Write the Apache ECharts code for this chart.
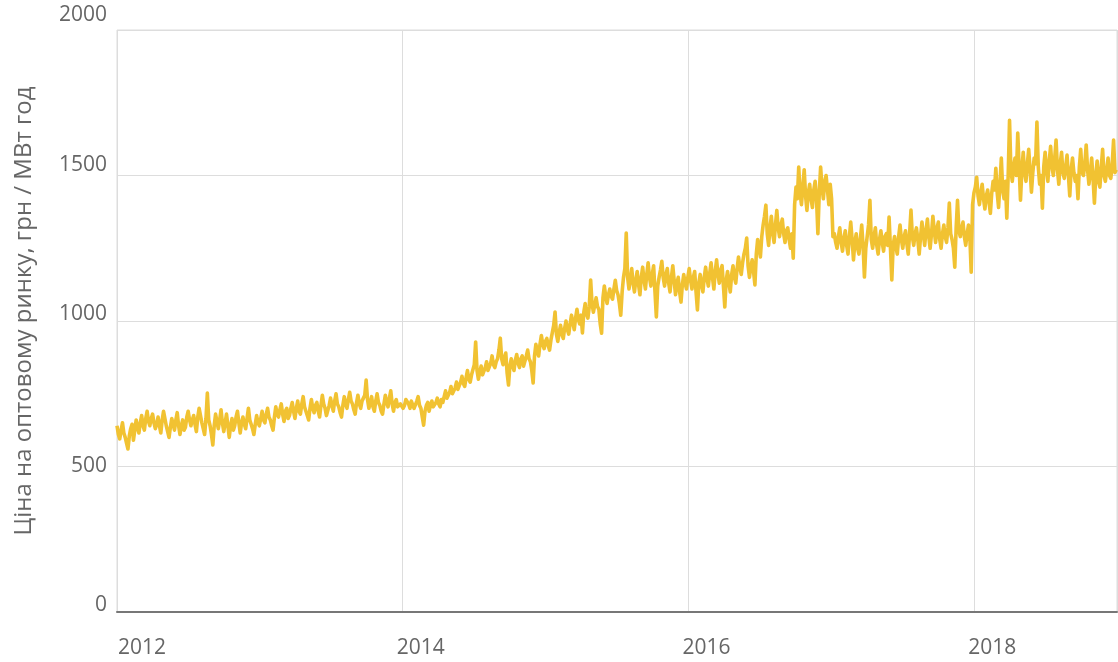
<!DOCTYPE html>
<html><head><meta charset="utf-8">
<script src="https://cdn.jsdelivr.net/npm/echarts@6/dist/echarts.min.js"></script>
<style>html,body{margin:0;padding:0;background:#fff}#c{width:1118px;height:662px}</style>
</head><body><div id="c"></div>
<script>
// Half-weekly readings (grn / MWh), starting 2012-01-01, one value every 3.5 days
const startYear = 2012;
const stepDays = 3.5;
const price2012 = [640,610,595,625,650,615,600,580,560,605,630,645,590,625,660,635,615,650,675,640,625,665,690,655,640,665,
  680,650,630,645,670,640,615,660,690,665,640,620,600,635,665,645,625,660,685,640,610,640,660,625,635,670,
  690,660,640,660,675,645,620,670,700,675,650,630,610,665,752,660,640,610,574,640,680,655,630,660,695,650,
  620,650,680,640,600,640,665,625,640,670,690,650,615,650,670,645,630,665,700,660,645,630,610,645,675,650];
const price2013 = [640,665,690,660,650,680,700,670,660,640,625,670,705,680,670,695,715,680,655,690,700,665,675,700,720,690,
  665,700,725,690,680,715,740,705,690,675,660,700,730,700,685,710,720,690,670,710,745,715,700,675,680,710,
  735,710,690,725,750,715,705,685,670,710,740,715,700,730,755,725,715,695,680,720,745,715,700,725,735,745,
  797,730,700,720,740,705,690,725,750,720,710,690,680,715,745,720,705,735,760,715,690,720,730,705,700,715];
const price2014 = [720,700,710,730,735,715,700,725,725,700,705,725,740,710,700,670,642,690,710,720,690,710,725,705,700,720,735,715,705,730,
  720,740,760,735,730,755,775,750,745,770,790,765,760,790,810,785,775,805,830,800,790,815,
  820,850,928,830,800,825,845,815,810,840,860,830,825,855,880,850,840,860,870,900,941,870,850,875,890,820,780,845,
  870,845,830,865,885,855,840,870,880,845,850,880,900,870,860,830,787,880,920,895,880,920,950,920,905,930];
const price2015 = [940,915,900,935,960,985,1031,955,930,960,985,955,940,975,1000,970,955,990,1020,995,970,1010,1040,1005,990,1020,
  959,1030,1060,1025,1010,1050,1141,1060,1030,1055,1080,1050,1040,990,958,1080,1120,1085,1060,1090,1110,1085,1075,1110,1140,1105,
  1090,1060,1020,1100,1150,1180,1302,1150,1110,1145,1180,1130,1100,1140,1170,1125,1090,1150,1185,1140,1110,1160,1200,1150,1120,1160,
  1190,1100,1014,1120,1150,1175,1205,1150,1120,1160,1180,1130,1100,1150,1190,1140,1090,1130,1150,1100,1065,1125,1160,1130,1110,1150];
const price2016 = [1180,1140,1110,1150,1170,1100,1038,1130,1160,1125,1100,1150,1185,1145,1120,1165,1200,1150,1110,1170,1210,1160,1130,1175,1190,1120,
  1048,1140,1170,1130,1100,1160,1190,1150,1130,1180,1220,1185,1160,1200,1230,1250,1285,1190,1150,1185,1210,1170,1124,1230,1280,1250,
  1220,1290,1330,1360,1398,1300,1260,1320,1360,1300,1270,1330,1380,1320,1290,1330,1350,1300,1270,1310,1320,1280,1250,1300,1216,1400,
  1460,1420,1529,1440,1400,1460,1520,1430,1380,1440,1470,1420,1390,1450,1480,1420,1300,1440,1529,1460,1420,1480,1500,1450,1400,1470];
const price2017 = [1420,1290,1300,1270,1250,1290,1320,1270,1240,1285,1310,1260,1230,1290,1340,1280,1210,1270,1300,1250,1230,1280,1330,1260,1151,1250,
  1290,1330,1415,1280,1250,1290,1320,1260,1230,1280,1310,1270,1240,1290,1300,1260,1357,1250,1141,1260,1290,1255,1230,1290,1330,1280,
  1250,1290,1310,1265,1230,1300,1381,1290,1260,1300,1320,1280,1230,1290,1340,1300,1260,1310,1350,1290,1250,1300,1360,1310,1270,1320,
  1340,1280,1250,1300,1330,1290,1270,1320,1405,1300,1280,1250,1185,1320,1415,1310,1290,1320,1340,1290,1260,1300,1330,1290,1168,1400];
const price2018 = [1440,1460,1494,1430,1400,1440,1470,1420,1385,1430,1450,1410,1370,1440,1480,1450,1525,1440,1390,1470,1560,1450,1420,1480,1353,1500,
  1690,1520,1480,1530,1560,1500,1646,1530,1415,1520,1580,1510,1480,1540,1590,1520,1443,1510,1560,1540,1684,1530,1470,1500,1388,1530,
  1580,1520,1480,1550,1600,1530,1500,1560,1622,1520,1470,1540,1580,1510,1490,1530,1570,1500,1430,1520,1560,1510,1480,1500,1420,1530,
  1590,1510,1500,1540,1605,1520,1470,1510,1560,1490,1405,1500,1550,1480,1460,1530,1590,1500,1480,1520,1560,1500,1490,1540,1622,1510,1520];
const yTicks = [0, 500, 1000, 1500, 2000];
const xYears = [2012, 2014, 2016, 2018];
const yTitle = 'Ціна на оптовому ринку, грн / МВт год';

const values = [].concat(price2012, price2013, price2014, price2015, price2016, price2017, price2018);
const data = values.map((v, i) => [startYear + i * stepDays / 365.25, v]);

const FONT = 'Open Sans';
const GREY = '#666';
const FS = 21;
const chart = echarts.init(document.getElementById('c'), null, {renderer: 'canvas'});
chart.setOption({
  animation: false,
  grid: {left: 117, right: 1, top: 30, bottom: 50, show: true, borderColor: '#ddd', borderWidth: 1},
  xAxis: {
    type: 'value', min: 2012, max: 2019, interval: 2,
    axisLine: {show: true, lineStyle: {color: '#777', width: 2}},
    axisTick: {show: false},
    splitLine: {show: true, lineStyle: {color: '#ddd', width: 1}},
    axisLabel: {
      showMaxLabel: false, margin: 26, color: GREY, fontFamily: FONT, fontSize: FS,
      formatter: v => xYears.indexOf(v) < 0 ? '' : (v === xYears[0] ? '{f|' + v + '}' : '{o|' + v + '}'),
      rich: {
        f: {color: GREY, fontFamily: FONT, fontSize: FS, padding: [0, 0, 0, 50]},
        o: {color: GREY, fontFamily: FONT, fontSize: FS, padding: [0, 0, 0, 36]}
      }
    }
  },
  yAxis: {
    type: 'value', min: yTicks[0], max: yTicks[yTicks.length - 1], interval: 500,
    axisLine: {show: false}, axisTick: {show: false},
    splitLine: {show: true, lineStyle: {color: '#ddd', width: 1}},
    name: yTitle, nameLocation: 'middle', nameGap: 81, nameRotate: 90,
    nameTextStyle: {color: GREY, fontFamily: FONT, fontSize: 24, padding: [0, 0, 0, 20]},
    axisLabel: {
      margin: 10, color: GREY, fontFamily: FONT, fontSize: FS,
      formatter: v => {
        const k = {0: 'd', 500: 'n', 1000: 'c', 1500: 'b', 2000: 'a'}[v];
        return '{' + k + '|' + v + '}';
      },
      rich: {
        a: {color: GREY, fontFamily: FONT, fontSize: FS, padding: [0, 0, 30, 0]},
        b: {color: GREY, fontFamily: FONT, fontSize: FS, padding: [0, 0, 20, 0]},
        c: {color: GREY, fontFamily: FONT, fontSize: FS, padding: [0, 0, 14, 0]},
        n: {color: GREY, fontFamily: FONT, fontSize: FS, padding: [0, 0, 0, 0]},
        d: {color: GREY, fontFamily: FONT, fontSize: FS, padding: [0, 0, 14, 0]}
      }
    }
  },
  series: [{
    type: 'line', data: data, showSymbol: false, symbol: 'none', sampling: null,
    lineStyle: {color: '#F1C232', width: 3.6, join: 'round'}, z: 3
  }]
});
</script></body></html>
